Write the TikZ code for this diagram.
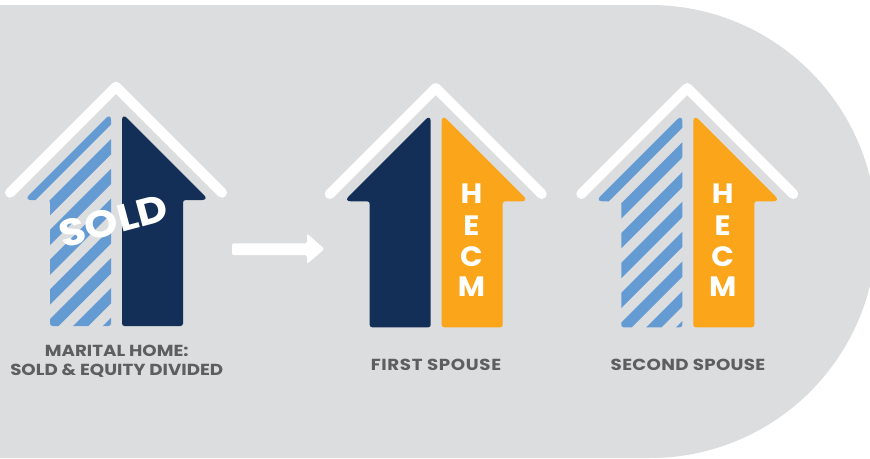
\documentclass[tikz,border=0pt]{standalone}
\usepackage{fontspec}
\setmainfont{Poppins}
\newfontfamily\lblfont{Poppins}[FakeStretch=1.14]
\newfontfamily\soldfont{Poppins}[FakeStretch=1.12]
\newfontfamily\hecmfont{Poppins}[FakeStretch=1.06]
\definecolor{bgrey}{HTML}{DCDDDF}
\definecolor{navy}{HTML}{132F58}
\definecolor{hblue}{HTML}{659BD3}
\definecolor{hecm}{HTML}{FBA51A}
\definecolor{tgrey}{HTML}{5D5E60}
\tikzset{
  roofline/.style={draw=white,line width=10pt,line cap=round,line join=round},
  label/.style={text=tgrey,font=\lblfont\bfseries\fontsize{16}{18.7}\selectfont,align=center,inner sep=0pt},
  hecmletter/.style={text=white,font=\hecmfont\bfseries\fontsize{28}{28}\selectfont,inner sep=0pt},
}
\newcommand{\leftshape}{(-35,326) [rounded corners=2.5pt] -- (-5,326) [rounded corners=7pt] -- (-5,113) -- (-92,200) [rounded corners=2.5pt] -- (-66,200) -- (-66,326) -- cycle}
\newcommand{\rightshape}{(36,326) [rounded corners=2.5pt] -- (6,326) [rounded corners=7pt] -- (6,113) -- (93,200) [rounded corners=2.5pt] -- (67,200) -- (67,326) -- cycle}
\newcommand{\stripes}[1]{%
  \begin{scope}
    \clip \leftshape;
    \foreach \k in {-1,...,8}{
      \fill[hblue] (-100,{#1+29.8*\k+95}) -- (10,{#1+29.8*\k-15}) -- (10,{#1+29.8*\k+0.3}) -- (-100,{#1+29.8*\k+110.3}) -- cycle;
    }
  \end{scope}}
\newcommand{\roof}{\draw[roofline] (-106,192.7) -- (0,86.7) -- (106,192.7);}
\begin{document}
\begin{tikzpicture}[x=1pt,y=-1pt]
\useasboundingbox (0,0) rectangle (870,458);
\fill[white] (0,0) rectangle (870,458);
\fill[bgrey] (0,5) -- (650,5) arc[start angle=90,end angle=-90,radius=226.5pt] -- (0,458) -- cycle;
% first house
\begin{scope}[shift={(116,0)}]
  \roof
  \stripes{139}
  \fill[navy] \rightshape;
\end{scope}
\node[text=white,rotate=15,font=\soldfont\bfseries\fontsize{38}{38}\selectfont,inner sep=0pt] (sold) at (113.5,221) {SOLD};
\node[label] (l1) at (116.7,361.5) {MARITAL HOME:\\SOLD \& EQUITY DIVIDED};
% arrow
\fill[white,rounded corners=1.5pt] (232,243.3) -- (307,243.3) -- (307,233.5) -- (324.5,249) -- (307,264) -- (307,255) -- (232,255) -- cycle;
% second house
\begin{scope}[shift={(435.7,1.3)}]
  \roof
  \fill[navy] \leftshape;
  \fill[hecm] \rightshape;
\end{scope}
\foreach \c/\yy/\nm in {H/194/a,E/225.7/b,C/256.7/c,M/286.7/d}{
  \node[hecmletter] (h\nm) at (471.5,\yy) {\c};
}
\node[label] (l2) at (436,364.5) {\addfontfeature{LetterSpace=4}FIRST SPOUSE};
% third house
\begin{scope}[shift={(687.3,1.3)}]
  \roof
  \stripes{141}
  \fill[hecm] \rightshape;
\end{scope}
\foreach \c/\yy/\nm in {H/194/a,E/225.7/b,C/256.7/c,M/286.7/d}{
  \node[hecmletter] (i\nm) at (722.7,\yy) {\c};
}
\node[label] (l3) at (688,364.5) {\addfontfeature{LetterSpace=2}SECOND SPOUSE};
\end{tikzpicture}
\end{document}
